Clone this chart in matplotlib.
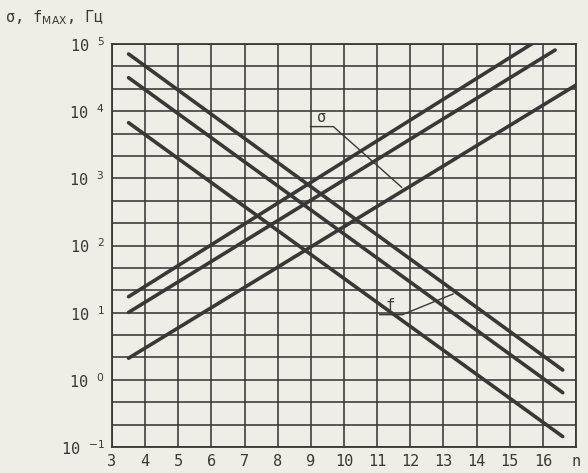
import numpy as np
import matplotlib.pyplot as plt

# f_max curves (falling), value at start and end of each line
f_n = [3.5, 16.6]
f_1 = [71000, 1.40]
f_2 = [31500, 0.644]
f_3 = [6730, 0.143]

# sigma curves (rising), each line has its own end point
s_n = [[3.5, 15.66], [3.5, 16.37], [3.5, 17.0]]
s_v = [[17.3, 1.0e5], [10.1, 81300], [2.1, 24500]]

x_ticks = list(range(3, 18))
x_labels = [str(i) for i in range(3, 17)] + ["n"]
y_exp = [-1, 0, 1, 2, 3, 4, 5]

paper = "#efeee6"
ink = "#383838"

plt.rcParams['font.family'] = ['DejaVu Sans Mono', 'DejaVu Sans']
fig = plt.figure(figsize=(5.88, 4.73), dpi=100, facecolor=paper)
ax = fig.add_axes([112/588, 1-447/473, 464/588, 403/473], facecolor=paper)
ax.set_yscale("log")
ax.set_xlim(3, 17)
ax.set_ylim(1e-1, 1e5)

# grid: every integer n, every third of a decade
for xv in x_ticks:
    ax.axvline(xv, color=ink, lw=1.15, zorder=1)
for k in range(19):
    ax.axhline(10 ** (-1 + k / 3), color=ink, lw=1.15, zorder=1)

for f in (f_1, f_2, f_3):
    ax.plot(f_n, f, color=ink, lw=2.6, zorder=3, solid_capstyle="round")
for n, v in zip(s_n, s_v):
    ax.plot(n, v, color=ink, lw=2.6, zorder=3, solid_capstyle="round")

# leader for sigma
ax.plot([8.99, 9.68, 11.74], [10**3.77, 10**3.77, 10**2.867], color=ink, lw=1.0, zorder=2)
ax.text(9.33, 10**3.79, "σ", ha="center", va="bottom", fontsize=11, color=ink)
# leader for f
ax.plot([11.08, 11.76, 13.29], [10**0.97, 10**0.97, 10**1.278], color=ink, lw=1.0, zorder=2)
ax.text(11.4, 10**0.99, "f", ha="center", va="bottom", fontsize=11, color=ink)

ax.set_xticks(x_ticks)
ax.set_xticklabels(x_labels, fontsize=11, color=ink)
ax.set_yticks([10.0 ** e for e in y_exp])
ax.set_yticklabels(["10 $^{%d}$" % e for e in y_exp], fontsize=11, color=ink)
ax.minorticks_off()
ax.tick_params(length=0, pad=5)
for s in ax.spines.values():
    s.set_color(ink)
    s.set_linewidth(1.3)

fig.text(5/588, 1-18/473, "σ, f$_{\\mathrm{MAX}}$, Гц", fontsize=11, color=ink, va="center")

fig.savefig("out.png", dpi=100, facecolor=paper)
